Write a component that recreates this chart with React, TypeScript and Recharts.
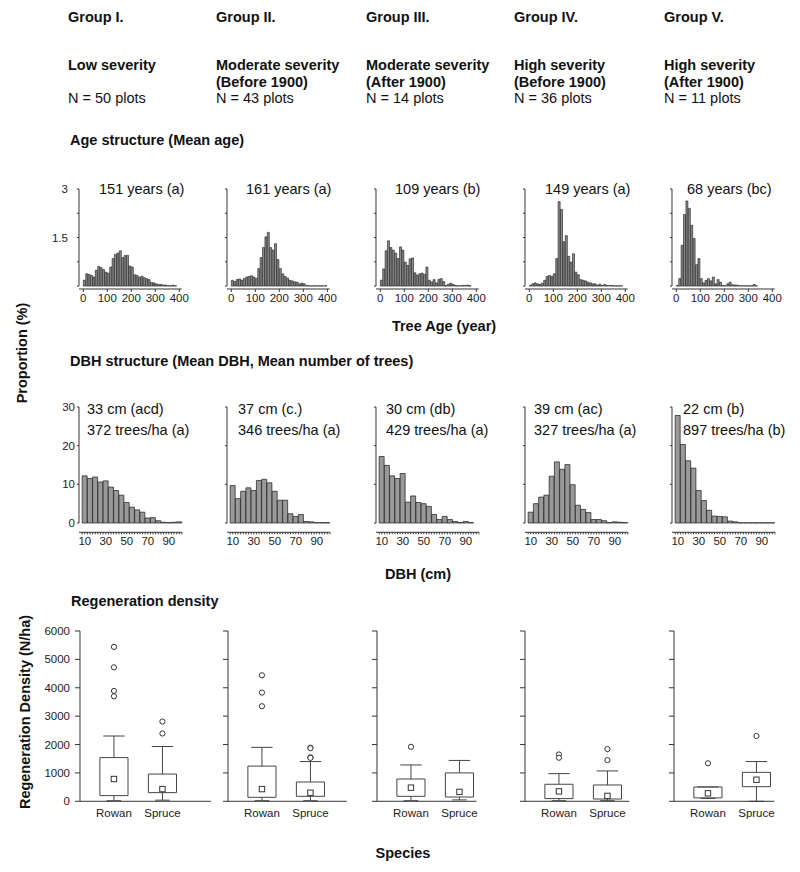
import React from 'react';
import {
  Bar,
  BarChart,
  ComposedChart,
  ReferenceArea,
  ReferenceLine,
  Scatter,
  XAxis,
  YAxis,
} from 'recharts';

const FONT = '"Liberation Sans", Arial, Helvetica, sans-serif';
const INK = '#222';

// ---- header texts ----
const groupNames = ['Group I.', 'Group II.', 'Group III.', 'Group IV.', 'Group V.'];
const severity = ['Low severity', 'Moderate severity', 'Moderate severity', 'High severity', 'High severity'];
const period = ['', '(Before 1900)', '(After 1900)', '(Before 1900)', '(After 1900)'];
const plotCounts = [50, 43, 14, 36, 11];
const meanAge = ['151 years (a)', '161 years (a)', '109 years (b)', '149 years (a)', '68 years (bc)'];
const meanDbh = ['33 cm (acd)', '37 cm (c.)', '30 cm (db)', '39 cm (ac)', '22 cm (b)'];
const treeDensity = ['372 trees/ha (a)', '346 trees/ha (a)', '429 trees/ha (a)', '327 trees/ha (a)', '897 trees/ha (b)'];

// ---- age structure: 10-year classes (class mid points), proportion % ----
const ageBins = [
  5, 15, 25, 35, 45, 55, 65, 75, 85, 95, 105, 115, 125, 135, 145, 155, 165, 175, 185, 195,
  205, 215, 225, 235, 245, 255, 265, 275, 285, 295, 305, 315, 325, 335, 345, 355, 365, 375, 385, 395,
];
const ageG1 = [
  0.18, 0.38, 0.36, 0.33, 0.28, 0.49, 0.61, 0.57, 0.51, 0.43, 0.4, 0.59, 0.85, 0.98, 1.02, 1.09, 0.88, 0.94, 0.95, 0.62,
  0.59, 0.35, 0.33, 0.28, 0.3, 0.26, 0.23, 0.2, 0.11, 0.1, 0.07, 0.05, 0.05, 0.03, 0.03, 0.01, 0.01, 0.03, 0.01, 0,
];
const ageG2 = [
  0.18, 0.14, 0.2, 0.22, 0.18, 0.23, 0.28, 0.3, 0.32, 0.28, 0.24, 0.54, 0.88, 1.19, 1.52, 1.66, 1.19, 1.11, 1.31, 0.82,
  0.54, 0.38, 0.3, 0.25, 0.18, 0.16, 0.13, 0.12, 0.07, 0.09, 0.07, 0.02, 0.01, 0.01, 0.01, 0.01, 0.01, 0.01, 0.01, 0.01,
];
const ageG3 = [
  0.18, 0.53, 1.09, 1.4, 1.19, 1.11, 1.02, 0.85, 1.21, 1.11, 0.74, 0.64, 0.84, 0.87, 0.41, 0.34, 0.38, 0.4, 0.36, 0.59,
  0.18, 0.13, 0.2, 0.1, 0.21, 0.23, 0.14, 0.02, 0.06, 0.09, 0.05, 0.02, 0.01, 0.01, 0.02, 0.02, 0.03, 0.01, 0, 0,
];
const ageG4 = [
  0.02, 0.07, 0.1, 0.07, 0.05, 0.09, 0.18, 0.3, 0.33, 0.3, 0.38, 0.85, 2.61, 2.37, 1.37, 1.56, 0.92, 0.74, 1.0, 0.43,
  0.35, 0.2, 0.18, 0.16, 0.12, 0.1, 0.07, 0.07, 0.03, 0.06, 0.02, 0.05, 0.02, 0.02, 0.02, 0.01, 0.01, 0.01, 0.01, 0,
];
const ageG5 = [
  0.02, 0.23, 1.26, 2.21, 2.63, 2.4, 1.88, 1.47, 0.66, 0.85, 0.23, 0.1, 0.18, 0.23, 0.16, 0.28, 0.07, 0.2, 0.12, 0.02,
  0.01, 0.07, 0.12, 0.04, 0.03, 0.03, 0.01, 0.01, 0.01, 0.01, 0.01, 0.01, 0.05, 0.01, 0, 0, 0, 0, 0, 0,
];
const ageSeries = [ageG1, ageG2, ageG3, ageG4, ageG5];
const ageTicks = [0, 100, 200, 300, 400];
const ageYTicks = [0, 0.75, 1.5, 2.25, 3];

// ---- DBH structure: 5 cm classes, proportion % ----
const dbhBins = [10, 15, 20, 25, 30, 35, 40, 45, 50, 55, 60, 65, 70, 75, 80, 85, 90, 95, 100];
const dbhG1 = [12.2, 11.5, 11.9, 10.6, 10.9, 9.3, 8.4, 7.2, 5.3, 4.1, 3.4, 2.8, 1.3, 1.4, 0.6, 0.2, 0.1, 0.2, 0.3];
const dbhG2 = [9.7, 6.3, 8.2, 9.1, 8.4, 11.0, 11.3, 10.4, 8.2, 5.9, 5.9, 2.4, 1.7, 2.2, 0.4, 0.3, 0.1, 0.1, 0.1];
const dbhG3 = [17.2, 14.9, 12.2, 11.5, 12.8, 5.4, 7.0, 5.3, 5.0, 4.3, 2.2, 0.9, 1.7, 0.9, 0.4, 0.1, 0.4, 0.1, 0];
const dbhG4 = [2.8, 5.0, 6.7, 7.2, 12.1, 15.8, 13.9, 15.1, 9.9, 4.6, 3.5, 2.7, 0.9, 0.9, 0.6, 0.1, 0.3, 0.2, 0.1];
const dbhG5 = [27.8, 20.3, 16.1, 14.2, 8.4, 5.8, 3.3, 1.8, 1.7, 1.6, 0.5, 0.3, 0.05, 0.05, 0.05, 0.05, 0.05, 0.05, 0.05];
const dbhSeries = [dbhG1, dbhG2, dbhG3, dbhG4, dbhG5];
const dbhTicks = [
  7.5, 10, 12.5, 15, 17.5, 20, 22.5, 25, 27.5, 30, 32.5, 35, 37.5, 40, 42.5, 45, 47.5, 50, 52.5, 55,
  57.5, 60, 62.5, 65, 67.5, 70, 72.5, 75, 77.5, 80, 82.5, 85, 87.5, 90, 92.5, 95, 97.5, 100, 102.5,
];
const dbhLabels = [10, 30, 50, 70, 90];
const dbhYTicks = [0, 10, 20, 30];

// ---- regeneration density: [low whisker, Q1, Q3, high whisker, mean] ----
const species = ['Rowan', 'Spruce'];
const rowanBox = [
  [20, 200, 1540, 2300, 785],
  [20, 140, 1240, 1900, 430],
  [20, 175, 785, 1280, 480],
  [20, 95, 600, 975, 350],
  [100, 120, 505, 505, 280],
];
const spruceBox = [
  [40, 305, 960, 1930, 430],
  [20, 175, 680, 1400, 300],
  [50, 150, 1000, 1440, 330],
  [20, 80, 575, 1070, 190],
  [0, 515, 1020, 1400, 760],
];
const rowanOut = [[5440, 4720, 3890, 3700], [4440, 3830, 3350], [1920], [1650, 1535], [1340]];
const spruceOut = [[2810, 2390], [1890, 1870, 1550, 1530], [], [1840, 1450], [2300]];
const regenTicks = [0, 1000, 2000, 3000, 4000, 5000, 6000];

// ---- layout ----
const histAxisX = [79, 226.7, 375.7, 525, 671.7];
const boxAxisX = [80, 227.7, 376.7, 525, 674];
const boxAxisEnd = [3.0, 2.75, 2.35, 2.45, 2.37];
const YW = 40;
const RM = 14; // right margin so the last tick label is not clipped

const Txt = ({ x, y, children, bold = false, size = 14.5, center = false }: any) => (
  <div
    style={{
      position: 'absolute',
      left: x,
      top: y - size * 0.5,
      fontSize: size,
      lineHeight: `${size}px`,
      fontWeight: bold ? 'bold' : 'normal',
      whiteSpace: 'nowrap',
      transform: center ? 'translateX(-50%)' : undefined,
    }}>
    {children}
  </div>
);

const VTxt = ({ x, y, children }: any) => (
  <div
    style={{
      position: 'absolute',
      left: x,
      top: y,
      fontSize: 14.5,
      lineHeight: '14.5px',
      fontWeight: 'bold',
      whiteSpace: 'nowrap',
      transform: 'translate(-50%, -50%) rotate(-90deg)',
    }}>
    {children}
  </div>
);

const tickStyle = { fontSize: 11.5, fill: INK };

function AgePanel({ i }: { i: number }) {
  const data = ageBins.map((b, k) => ({ bin: b, v: ageSeries[i][k] }));
  const plotW = 428 * 0.24;
  return (
    <div style={{ position: 'absolute', left: histAxisX[i] - YW, top: 184 }}>
      <BarChart
        width={YW + plotW + RM}
        height={125}
        data={data}
        barCategoryGap={0}
        barGap={0}
        margin={{ top: 5, right: RM, bottom: 0, left: 0 }}>
        <XAxis
          type="number"
          dataKey="bin"
          domain={[-18, 410]}
          ticks={ageTicks}
          interval={0}
          height={20}
          tickSize={3}
          tickMargin={2}
          tick={tickStyle}
          stroke="#333"
        />
        <YAxis
          type="number"
          domain={[-0.09, 3]}
          ticks={ageYTicks}
          interval={0}
          width={YW}
          axisLine={false}
          tickSize={2}
          tickMargin={9}
          tick={tickStyle}
          stroke="#333"
          tickFormatter={(v: number) => (i === 0 && (v === 3 || v === 1.5) ? String(v) : '')}
        />
        <ReferenceLine
          segment={[{ x: -18, y: 0 }, { x: -18, y: 3 }]}
          stroke="#333"
          ifOverflow="visible"
        />
        <Bar dataKey="v" fill="#8c8c8c" stroke="#1a1a1a" strokeWidth={0.6} isAnimationActive={false} />
      </BarChart>
    </div>
  );
}

function DbhPanel({ i }: { i: number }) {
  const data = dbhBins.map((b, k) => ({ bin: b, v: dbhSeries[i][k] }));
  const plotW = 98 * 1.05;
  return (
    <div style={{ position: 'absolute', left: histAxisX[i] - YW, top: 401.7 }}>
      <BarChart
        width={YW + plotW + RM}
        height={150.3}
        data={data}
        barCategoryGap={0}
        barGap={0}
        margin={{ top: 5, right: RM, bottom: 0, left: 0 }}>
        <XAxis
          type="number"
          dataKey="bin"
          domain={[4.5, 102.5]}
          ticks={dbhTicks}
          interval={0}
          height={20}
          tickSize={2}
          tickMargin={3}
          tick={tickStyle}
          stroke="#333"
          tickFormatter={(v: number) => (dbhLabels.includes(v) ? String(v) : '')}
        />
        <YAxis
          type="number"
          domain={[-2.4, 30]}
          ticks={dbhYTicks}
          interval={0}
          width={YW}
          axisLine={false}
          tickSize={2}
          tickMargin={2}
          tick={tickStyle}
          stroke="#333"
          tickFormatter={(v: number) => (i === 0 ? String(v) : '')}
        />
        <ReferenceLine
          segment={[{ x: 4.5, y: 0 }, { x: 4.5, y: 30 }]}
          stroke="#333"
          ifOverflow="visible"
        />
        <Bar dataKey="v" fill="#999" stroke="#1a1a1a" strokeWidth={0.7} isAnimationActive={false} />
      </BarChart>
    </div>
  );
}

// box, whiskers and caps of one species, drawn in data coordinates
function boxParts(x: number, s: number[], key: string) {
  const [lo, q1, q3, hi] = s;
  const line = { stroke: '#444', strokeWidth: 1, ifOverflow: 'visible' as const };
  return [
    <ReferenceLine key={key + 'wu'} segment={[{ x, y: q3 }, { x, y: hi }]} {...line} />,
    <ReferenceLine key={key + 'cu'} segment={[{ x: x - 0.22, y: hi }, { x: x + 0.22, y: hi }]} {...line} />,
    <ReferenceLine key={key + 'wl'} segment={[{ x, y: q1 }, { x, y: lo }]} {...line} />,
    <ReferenceLine key={key + 'cl'} segment={[{ x: x - 0.15, y: lo }, { x: x + 0.15, y: lo }]} {...line} />,
    <ReferenceArea
      key={key + 'b'}
      x1={x - 0.29}
      x2={x + 0.29}
      y1={q1}
      y2={q3}
      fill="none"
      stroke="#444"
      strokeWidth={1}
      ifOverflow="visible"
    />,
  ];
}

const MeanMark = (p: any) => (
  <rect x={p.cx - 2.7} y={p.cy - 2.7} width={5.4} height={5.4} fill="#fff" stroke="#333" strokeWidth={1} />
);
const OutMark = (p: any) => <circle cx={p.cx} cy={p.cy} r={2.6} fill="#fff" stroke="#333" strokeWidth={1} />;

function BoxPanel({ i }: { i: number }) {
  const end = boxAxisEnd[i];
  const plotW = (end - 0.3) * 48.5;
  const means = [
    { x: 1, y: rowanBox[i][4] },
    { x: 2, y: spruceBox[i][4] },
  ];
  const outs = [...rowanOut[i].map((y) => ({ x: 1, y })), ...spruceOut[i].map((y) => ({ x: 2, y }))];
  return (
    <div style={{ position: 'absolute', left: boxAxisX[i] - YW, top: 625.7 }}>
      <ComposedChart
        width={YW + plotW + 5}
        height={200.3}
        margin={{ top: 5, right: 5, bottom: 0, left: 0 }}>
        <XAxis
          type="number"
          dataKey="x"
          domain={[0.3, end]}
          ticks={[1, 2]}
          interval={0}
          height={25}
          tickLine={false}
          tickSize={5}
          tickMargin={3}
          tick={tickStyle}
          stroke="#333"
          allowDataOverflow
          tickFormatter={(v: number) => species[v - 1] ?? ''}
        />
        <YAxis
          type="number"
          dataKey="y"
          domain={[0, 6000]}
          ticks={regenTicks}
          interval={0}
          width={YW}
          tickSize={5}
          tickMargin={5}
          tick={tickStyle}
          stroke="#333"
          allowDataOverflow
          tickFormatter={(v: number) => (i === 0 ? String(v) : '')}
        />
        {boxParts(1, rowanBox[i], 'r')}
        {boxParts(2, spruceBox[i], 's')}
        <Scatter data={means} shape={MeanMark} isAnimationActive={false} />
        <Scatter data={outs} shape={OutMark} isAnimationActive={false} />
      </ComposedChart>
    </div>
  );
}

const headX = [68, 216, 366, 514, 664];
const ageTitleX = [99, 246, 395, 545, 687];
const dbhTitleX = [87, 238, 386, 534, 683];

export default function App() {
  return (
    <div
      style={{
        position: 'absolute',
        left: 0,
        top: 0,
        width: 800,
        height: 872,
        background: '#fff',
        fontFamily: FONT,
        color: '#111',
        overflow: 'hidden',
      }}>
      {groupNames.map((g, i) => (
        <React.Fragment key={g}>
          <Txt x={headX[i]} y={17} bold>{g}</Txt>
          <Txt x={headX[i]} y={65} bold>{severity[i]}</Txt>
          {period[i] && <Txt x={headX[i]} y={82} bold>{period[i]}</Txt>}
          <Txt x={headX[i]} y={98}>N = {plotCounts[i]} plots</Txt>
          <Txt x={ageTitleX[i]} y={189.5}>{meanAge[i]}</Txt>
          <Txt x={dbhTitleX[i]} y={409.5}>{meanDbh[i]}</Txt>
          <Txt x={dbhTitleX[i]} y={430}>{treeDensity[i]}</Txt>
        </React.Fragment>
      ))}

      <Txt x={70} y={140} bold>Age structure (Mean age)</Txt>
      <Txt x={444} y={326} bold center>Tree Age (year)</Txt>
      <Txt x={70} y={361} bold>DBH structure (Mean DBH, Mean number of trees)</Txt>
      <Txt x={418} y={574} bold center>DBH (cm)</Txt>
      <Txt x={71} y={601} bold>Regeneration density</Txt>
      <Txt x={403} y={853} bold center>Species</Txt>
      <VTxt x={22} y={353}>Proportion (%)</VTxt>
      <VTxt x={25} y={712}>Regeneration Density (N/ha)</VTxt>

      {[0, 1, 2, 3, 4].map((i) => (
        <React.Fragment key={i}>
          <AgePanel i={i} />
          <DbhPanel i={i} />
          <BoxPanel i={i} />
        </React.Fragment>
      ))}
    </div>
  );
}
